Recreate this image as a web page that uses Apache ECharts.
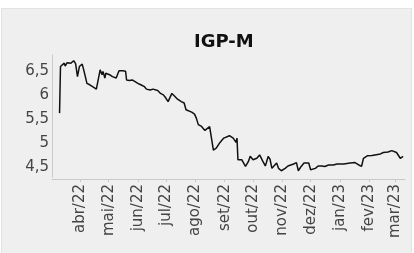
<!DOCTYPE html>
<html>
<head>
<meta charset="utf-8">
<script src="https://cdn.jsdelivr.net/npm/echarts@6/dist/echarts.min.js"></script>
<style>
  html, body { margin: 0; padding: 0; background: #ffffff; }
  #panel { position: absolute; left: 1px; top: 8px; width: 411px; height: 245px; background: #eeefee; border-left: 1px solid #e2e3e2; border-right: 1px solid #e2e3e2; border-top: 1px solid #e2e3e2; box-sizing: border-box; }
  #chart { position: absolute; left: 0; top: 0; width: 414px; height: 253px; }
</style>
</head>
<body>
<div id="panel"></div>
<div id="chart"></div>
<script>
// IGP-M expectations
var dates = [
  '2022-03-10','2022-03-11','2022-03-13','2022-03-15','2022-03-16','2022-03-18','2022-03-20','2022-03-22','2022-03-23','2022-03-25',
  '2022-03-27','2022-03-29','2022-03-30','2022-03-31','2022-04-01','2022-04-03','2022-04-05','2022-04-08','2022-04-09','2022-04-11',
  '2022-04-14','2022-04-18','2022-04-20','2022-04-22','2022-04-24','2022-04-25','2022-04-27','2022-04-28','2022-04-30','2022-05-02',
  '2022-05-05','2022-05-09','2022-05-12','2022-05-16','2022-05-19','2022-05-20','2022-05-23','2022-05-26','2022-05-28','2022-06-01',
  '2022-06-04','2022-06-08','2022-06-10','2022-06-14','2022-06-17','2022-06-19','2022-06-22','2022-06-25','2022-06-28','2022-06-30',
  '2022-07-03','2022-07-05','2022-07-07','2022-07-10','2022-07-12','2022-07-13','2022-07-15','2022-07-17','2022-07-20','2022-07-22',
  '2022-07-24','2022-07-28','2022-07-31','2022-08-02','2022-08-04','2022-08-07','2022-08-09','2022-08-11','2022-08-13','2022-08-16',
  '2022-08-18','2022-08-20','2022-08-21','2022-08-23','2022-08-27','2022-08-31','2022-09-06','2022-09-10','2022-09-12','2022-09-13',
  '2022-09-14','2022-09-15','2022-09-19','2022-09-21','2022-09-23','2022-09-26','2022-09-28','2022-10-01','2022-10-05','2022-10-08',
  '2022-10-11','2022-10-14','2022-10-15','2022-10-17','2022-10-19','2022-10-21','2022-10-23','2022-10-26','2022-10-28','2022-10-31',
  '2022-11-02','2022-11-04','2022-11-07','2022-11-09','2022-11-13','2022-11-16','2022-11-18','2022-11-21','2022-11-24','2022-11-26',
  '2022-11-29','2022-12-01','2022-12-03','2022-12-06','2022-12-09','2022-12-13','2022-12-16','2022-12-20','2022-12-25','2022-12-29',
  '2023-01-05','2023-01-12','2023-01-17','2023-01-21','2023-01-24','2023-01-26','2023-01-30','2023-02-04','2023-02-07','2023-02-13',
  '2023-02-16','2023-02-21','2023-02-25','2023-02-27','2023-03-02','2023-03-04','2023-03-06','2023-03-08','2023-03-09'
];
var values = [
  5.62,6.59,6.63,6.66,6.60,6.67,6.65,6.66,6.64,6.71,
  6.65,6.38,6.35,6.59,6.63,6.64,6.49,6.24,6.21,6.21,
  6.17,6.12,6.10,6.52,6.42,6.49,6.35,6.45,6.42,6.42,
  6.38,6.35,6.50,6.50,6.49,6.31,6.30,6.31,6.28,6.24,
  6.21,6.17,6.12,6.10,6.12,6.10,6.09,6.03,6.00,5.95,
  5.86,5.84,6.03,5.97,5.93,5.91,5.90,5.86,5.83,5.69,
  5.67,5.64,5.60,5.51,5.38,5.35,5.38,5.26,5.28,5.34,
  5.35,4.85,4.84,4.89,5.01,5.10,5.15,5.10,5.06,5.01,
  5.10,4.65,4.65,4.68,4.51,4.61,4.72,4.65,4.68,4.75,
  4.63,4.52,4.58,4.72,4.66,4.47,4.49,4.58,4.47,4.42,
  4.42,4.47,4.52,4.52,4.56,4.59,4.42,4.51,4.58,4.61,
  4.58,4.44,4.45,4.47,4.52,4.52,4.51,4.54,4.54,4.56,
  4.56,4.58,4.59,4.54,4.51,4.68,4.73,4.74,4.75,4.77,
  4.80,4.81,4.84,4.85,4.80,4.77,4.68,4.68,4.72
];
var monthNames = ['jan','fev','mar','abr','mai','jun','jul','ago','set','out','nov','dez'];
var firstDay = '2022-03-02';
var lastDay = '2023-03-11';

// one category per calendar day, so the month ticks fall where they should
function pad(n) { return (n < 10 ? '0' : '') + n; }
function dayList(from, to) {
  var a = from.split('-'), b = to.split('-');
  var t = Date.UTC(+a[0], +a[1] - 1, +a[2]);
  var end = Date.UTC(+b[0], +b[1] - 1, +b[2]);
  var out = [];
  while (t <= end) {
    var d = new Date(t);
    out.push(d.getUTCFullYear() + '-' + pad(d.getUTCMonth() + 1) + '-' + pad(d.getUTCDate()));
    t += 86400000;
  }
  return out;
}
var days = dayList(firstDay, lastDay);
var seriesData = dates.map(function (d, i) { return [d, values[i]]; });

function isMonthStart(index, value) { return value.slice(8) === '01'; }

var chart = echarts.init(document.getElementById('chart'));
chart.setOption({
  backgroundColor: 'transparent',
  animation: false,
  title: {
    text: 'IGP-M',
    left: 189,
    top: 28,
    textStyle: { fontFamily: 'DejaVu Sans', fontSize: 18, fontWeight: 'bold', color: '#111' }
  },
  grid: { left: 52, right: 9, top: 55, bottom: 76 },
  xAxis: {
    type: 'category',
    data: days,
    boundaryGap: false,
    offset: 2,
    axisLine: { lineStyle: { color: '#c8c9c8', width: 1 } },
    axisTick: { show: true, length: 3, interval: isMonthStart, lineStyle: { color: '#c8c9c8' } },
    splitLine: { show: false },
    axisLabel: {
      rotate: 90,
      margin: 5,
      interval: isMonthStart,
      fontFamily: 'DejaVu Sans',
      fontSize: 15,
      color: '#444',
      formatter: function (v) {
        return monthNames[+v.slice(5, 7) - 1] + '/' + v.slice(2, 4);
      }
    }
  },
  yAxis: {
    type: 'value',
    min: 4.29,
    max: 6.83,
    axisLine: { show: true, lineStyle: { color: '#c8c9c8', width: 1 } },
    axisTick: { show: false },
    splitLine: { show: false },
    axisLabel: {
      margin: 3,
      fontFamily: 'DejaVu Sans',
      fontSize: 15,
      color: '#444',
      showMinLabel: false,
      showMaxLabel: false,
      formatter: function (v) {
        if (Math.abs(v * 2 - Math.round(v * 2)) > 1e-6) return '';
        return String(v).replace('.', ',');
      }
    }
  },
  series: [{
    type: 'line',
    data: seriesData,
    showSymbol: false,
    lineStyle: { color: '#111', width: 1.5 }
  }]
});
</script>
</body>
</html>
